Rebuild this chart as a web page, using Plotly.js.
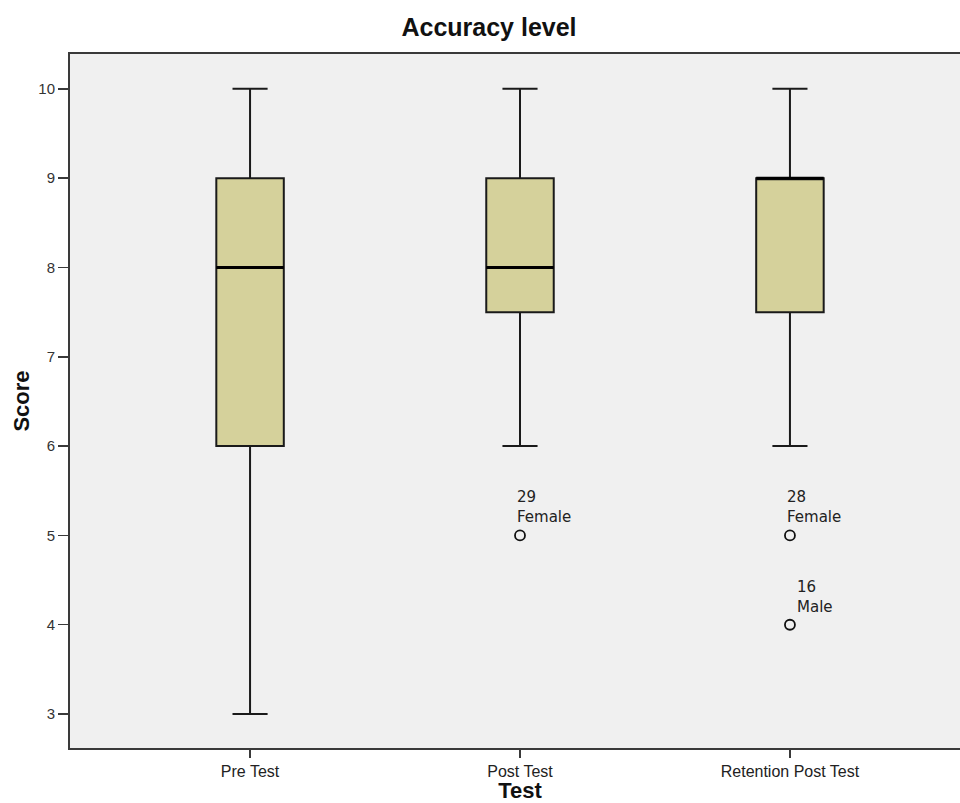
<!DOCTYPE html>
<html>
<head>
<meta charset="utf-8">
<script src="https://cdn.plot.ly/plotly-3.0.1.min.js"></script>
<style>
html,body{margin:0;padding:0;overflow:hidden;background:#fff;}
#chart{width:970px;height:803px;}
</style>
</head>
<body>
<div id="chart"></div>
<script>
// ---- data ----
const categories = ["Pre Test", "Post Test", "Retention Post Test"];
const lowerWhisker = [3, 6, 6];
const q1 = [6, 7.5, 7.5];
const median = [8, 8, 9];
const q3 = [9, 9, 9];
const upperWhisker = [10, 10, 10];

const outlierCategory = ["Post Test", "Retention Post Test", "Retention Post Test"];
const outlierValue = [5, 5, 4];
const outlierId = ["29", "28", "16"];
const outlierGroup = ["Female", "Female", "Male"];

const yTicks = [3, 4, 5, 6, 7, 8, 9, 10];

// ---- style ----
const boxFill = "#d5d19b";
const axisColor = "#3a3a3a";
const labelXShift = [-5, -5, 5];

const boxTrace = {
  type: "box",
  x: categories,
  q1: q1, median: median, q3: q3,
  lowerfence: lowerWhisker, upperfence: upperWhisker,
  width: 0.25,
  whiskerwidth: 0.52,
  fillcolor: boxFill,
  line: {color: "#1a1a1a", width: 2},
  boxpoints: false,
  hoverinfo: "skip",
  showlegend: false
};

const medianTrace = {
  type: "box",
  x: categories,
  q1: median, median: median, q3: median,
  lowerfence: median, upperfence: median,
  width: 0.25,
  whiskerwidth: 0,
  fillcolor: "rgba(0,0,0,0)",
  line: {color: "#000", width: 3},
  boxpoints: false,
  hoverinfo: "skip",
  showlegend: false
};

const outlierTrace = {
  type: "scatter",
  mode: "markers",
  x: outlierCategory,
  y: outlierValue,
  marker: {symbol: "circle-open", size: 10, color: "#111", line: {width: 1.8}},
  hoverinfo: "skip",
  showlegend: false
};

const annotations = outlierValue.map((v, i) => ({
  x: outlierCategory[i], y: v, xref: "x", yref: "y",
  text: outlierId[i] + "<br>" + outlierGroup[i],
  showarrow: false, xanchor: "left", yanchor: "bottom", align: "left",
  xshift: labelXShift[i], yshift: 7,
  font: {family: "DejaVu Sans", size: 15, color: "#222"}
}));

const layout = {
  width: 970, height: 803,
  margin: {l: 70, r: 0, t: 54, b: 55},
  paper_bgcolor: "#ffffff",
  plot_bgcolor: "#f0f0f0",
  boxmode: "overlay",
  title: {
    text: "<b>Accuracy level</b>",
    font: {family: "Liberation Sans", size: 25, color: "#111"},
    x: 489 / 970, xref: "container", xanchor: "center",
    y: 1 - 27 / 803, yref: "container", yanchor: "middle"
  },
  xaxis: {
    type: "category",
    categoryorder: "array", categoryarray: categories,
    range: [-0.667, 2.667],
    showgrid: false, zeroline: false,
    showline: true, linecolor: axisColor, linewidth: 2, mirror: true,
    ticks: "outside", ticklen: 8, tickwidth: 1.5, tickcolor: axisColor,
    tickfont: {family: "Liberation Sans", size: 16, color: "#222"},
    title: {text: "<b>Test</b>", font: {family: "Liberation Sans", size: 22, color: "#111"}, standoff: 9},
    fixedrange: true
  },
  yaxis: {
    range: [2.62, 10.39],
    tickvals: yTicks,
    showgrid: false, zeroline: false,
    showline: true, linecolor: axisColor, linewidth: 2, mirror: true,
    ticks: "outside", ticklen: 10, tickwidth: 1.5, tickcolor: axisColor,
    tickfont: {family: "Liberation Sans", size: 15, color: "#333"},
    title: {text: "<b>Score</b>", font: {family: "Liberation Sans", size: 22, color: "#111"}, standoff: 3},
    fixedrange: true
  },
  annotations: annotations
};

Plotly.newPlot("chart", [boxTrace, medianTrace, outlierTrace], layout, {displayModeBar: false, staticPlot: true});
</script>
</body>
</html>
